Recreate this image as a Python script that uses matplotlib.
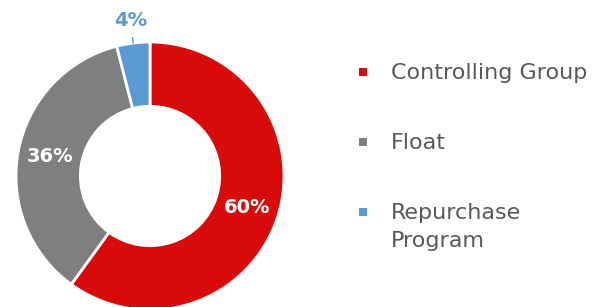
import numpy as np
import matplotlib
matplotlib.use('Agg')
import matplotlib.pyplot as plt
from matplotlib.patches import Rectangle

labels = ['Controlling Group', 'Float', 'Repurchase\nProgram']
shares = [60, 36, 4]
colours = ['#D90A0A', '#7F7F7F', '#5B9BD5']

W, H = 598, 307
fig = plt.figure(figsize=(W / 100, H / 100), dpi=100)
# square axes so the ring sits at the left, cut off slightly at the bottom
ax = fig.add_axes([16 / W, -3 / H, 268 / W, 268 / H])

wedges, texts, autotexts = ax.pie(
    shares, colors=colours, startangle=90, counterclock=False,
    autopct='%d%%', pctdistance=0.76,
    wedgeprops=dict(width=0.48, edgecolor='white', linewidth=2),
    textprops=dict(color='white', fontsize=14, fontweight='bold'))
ax.set_xlim(-1, 1)
ax.set_ylim(-1, 1)

# small slice: label sits outside with a short leader
w = wedges[2]
mid = np.deg2rad((w.theta1 + w.theta2) / 2)
autotexts[2].set_position((1.17 * np.cos(mid), 1.17 * np.sin(mid)))
autotexts[2].set_color(colours[2])
ax.plot([1.0 * np.cos(mid), 1.04 * np.cos(mid)],
        [1.0 * np.sin(mid), 1.04 * np.sin(mid)], color=colours[2], lw=1,
        clip_on=False)

# hand-made legend, one row every 70 px
for i, (lab, c) in enumerate(zip(labels, colours)):
    y = 1 - (72 + 70 * i) / H
    fig.add_artist(Rectangle((359 / W, y - 4 / H), 8 / W, 8 / H,
                             transform=fig.transFigure, color=c, lw=0))
    fig.text(391 / W, y + 9 / H, lab, fontsize=16, color='#595959',
             va='top', linespacing=1.5)

fig.savefig('out.png', dpi=100)
plt.close(fig)
